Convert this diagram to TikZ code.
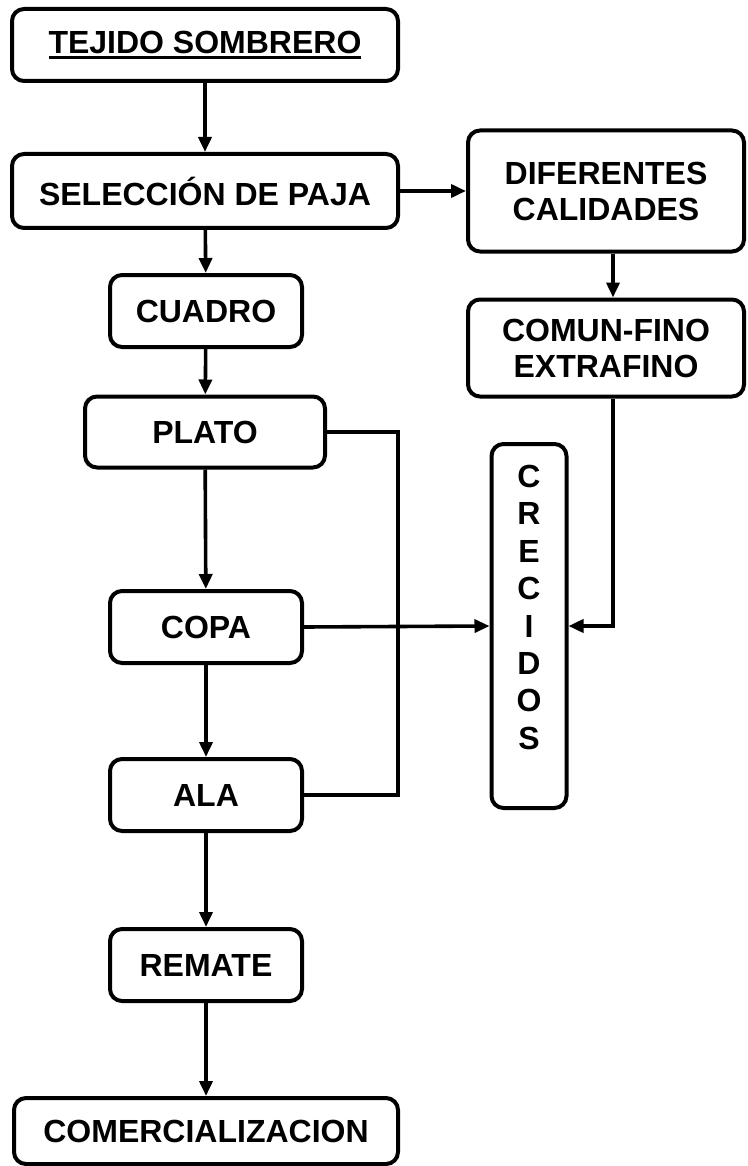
\documentclass[tikz,border=0pt]{standalone}
\usepackage{fontspec}
\setmainfont{Liberation Sans}
\usetikzlibrary{arrows.meta}
\newcommand\ulined[1]{\begingroup\setbox0\hbox{#1}\rlap{\rule[-6pt]{\wd0}{2.8pt}}\box0\endgroup}
\tikzset{
  box/.style={draw, line width=4pt, rounded corners=12pt, align=center, inner sep=0pt,
    font=\fontsize{32}{36}\selectfont\bfseries},
  link/.style={line width=3.6pt, -{Triangle[length=15pt, width=13pt]}},
  plain/.style={line width=3.6pt}
}
\begin{document}
\begin{tikzpicture} [x = 1pt, y = -1pt]
\useasboundingbox (0, 0) rectangle (747, 1166);
\node [box, minimum width=386pt, minimum height=72pt] (tejido) at (205, 45) {\ulined{TEJIDO SOMBRERO}};
\node [box, minimum width=386pt, minimum height=74pt] (seleccion) at (205, 191) {SELECCIÓN DE PAJA};
\node [box, minimum width=276pt, minimum height=121pt] (calidades) at (606, 191) {DIFERENTES\\CALIDADES};
\node [box, minimum width=192pt, minimum height=72pt] (cuadro) at (206, 311) {CUADRO};
\node [box, minimum width=276pt, minimum height=97pt] (comun) at (606, 348) {COMUN-FINO\\EXTRAFINO};
\node [box, minimum width=240pt, minimum height=71pt] (plato) at (205, 432) {PLATO};
\node [box, minimum width=75pt, minimum height=364pt, font=\fontsize{32}{37.4}\selectfont\bfseries] (crecidos) at (529, 626) {C\\R\\E\\C\\I\\D\\O\\S\\ \mbox{}};
\node [box, minimum width=192pt, minimum height=72pt] (copa) at (206, 627) {COPA};
\node [box, minimum width=192pt, minimum height=72pt] (ala) at (206, 795) {ALA};
\node [box, minimum width=192pt, minimum height=72pt] (remate) at (206, 965) {REMATE};
\node [box, minimum width=384pt, minimum height=66pt] (comercio) at (206, 1131) {COMERCIALIZACION};
\coordinate (pladerecha) at (398, 432);
\draw[link] (tejido) -- (seleccion);
\draw[link] (seleccion) -- (calidades);
\draw[link] (seleccion) -- (cuadro);
\draw[link] ([xshift=7pt]calidades.south) -- ([xshift=7pt]comun.north);
\draw[link] (cuadro) -- (plato);
\draw[link] (plato) -- (copa);
\draw[link] (copa) -- (ala);
\draw[link] (ala) -- (remate);
\draw[link] (remate) -- (comercio);
\draw[plain] (plato.east) -- (pladerecha) |- (ala.east);
\draw[link] (copa.east) -- (crecidos.west);
\draw[link] ([xshift=7pt]comun.south) |- (crecidos.east);
\end{tikzpicture}
\end{document}
